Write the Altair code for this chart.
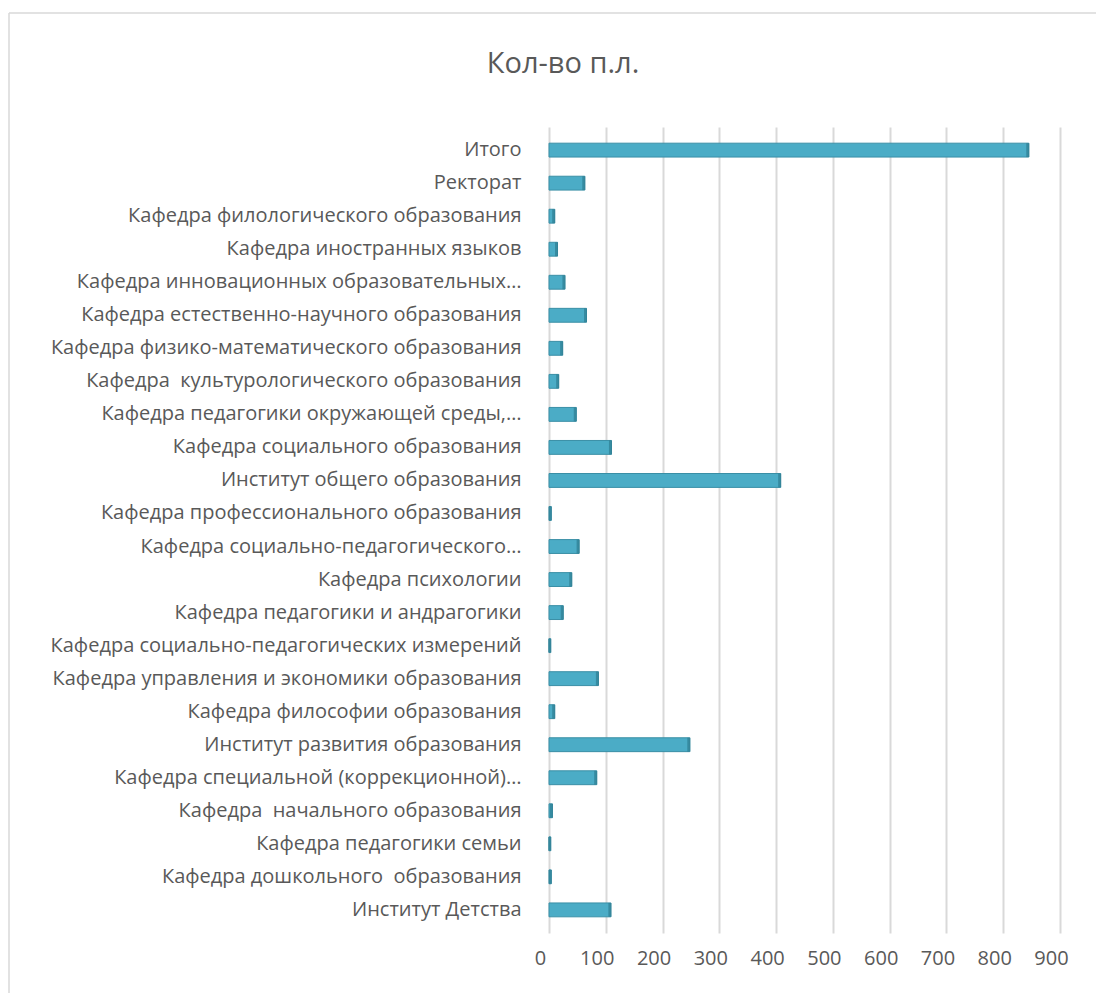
import altair as alt
import pandas as pd

categories = [
    "Итого",
    "Ректорат",
    "Кафедра филологического образования",
    "Кафедра иностранных языков",
    "Кафедра инновационных образовательных…",
    "Кафедра естественно-научного образования",
    "Кафедра физико-математического образования",
    "Кафедра\u00a0 культурологического образования",
    "Кафедра педагогики окружающей среды,…",
    "Кафедра социального образования",
    "Институт общего образования",
    "Кафедра профессионального образования",
    "Кафедра социально-педагогического…",
    "Кафедра психологии",
    "Кафедра педагогики и андрагогики",
    "Кафедра социально-педагогических измерений",
    "Кафедра управления и экономики образования",
    "Кафедра философии образования",
    "Институт развития образования",
    "Кафедра специальной (коррекционной)…",
    "Кафедра\u00a0 начального образования",
    "Кафедра педагогики семьи",
    "Кафедра дошкольного\u00a0 образования",
    "Институт Детства",
]
values = [845, 63, 10, 15, 28, 66, 24, 17, 48, 110, 408, 4, 53, 40, 25, 3,
          87, 10, 248, 84, 6, 3, 4, 109]
x_ticks = [0, 100, 200, 300, 400, 500, 600, 700, 800, 900]
title_text = ["Кол-во п.л."]

df = pd.DataFrame({"cat": categories, "val": values})

FONT = "Open Sans"
TXT = "#595959"

y_enc = alt.Y("cat:N", sort=categories,
              scale=alt.Scale(paddingInner=0.58, paddingOuter=0.49),
              axis=alt.Axis(title=None, labelFontSize=20, labelFont=FONT,
                            labelColor=TXT, labelPadding=28, labelLimit=600,
                            ticks=False, domain=False, grid=False))
x_enc = alt.X("val:Q", scale=alt.Scale(domain=[0, 900], nice=False),
              axis=alt.Axis(title=None, values=x_ticks, labelFontSize=20,
                            labelFont=FONT, labelColor=TXT, labelPadding=15,
                            labelOffset=-9, labelFlush=False, ticks=False,
                            domain=False, grid=True, gridColor="#d9d9d9",
                            gridWidth=2))

bars = alt.Chart(df).mark_bar(color="#4bacc6", stroke="#3a8fa6",
                              strokeWidth=1).encode(x=x_enc, y=y_enc)
caps = alt.Chart(df).mark_tick(color="#2e7d92", thickness=3, orient="vertical",
                               xOffset=-1).encode(x="val:Q", y=alt.Y("cat:N", sort=categories))

frame = alt.Chart(pd.DataFrame({"a": [0]})).mark_rule(
    color="#d9d9d9", strokeWidth=1.5).encode(
    x=alt.value(-540), y=alt.value(-114), y2=alt.value(880))
frame_top = alt.Chart(pd.DataFrame({"a": [0]})).mark_rule(
    color="#d9d9d9", strokeWidth=1.5).encode(
    x=alt.value(-540), x2=alt.value(560), y=alt.value(-114))

title = alt.Chart(pd.DataFrame({"t": title_text})).mark_text(
    font=FONT, fontSize=29, color=TXT, align="center", baseline="middle").encode(
    text="t:N", x=alt.value(14), y=alt.value(-63))

chart = alt.layer(bars, caps, frame, frame_top, title).properties(
    width=511, height=806,
    background="white",
    autosize=alt.AutoSizeParams(type="none"),
    padding={"left": 541, "top": 119, "right": 36, "bottom": 60},
).configure_view(stroke=None)

chart.save("out.html", embed_options={"renderer": "svg", "actions": False})
